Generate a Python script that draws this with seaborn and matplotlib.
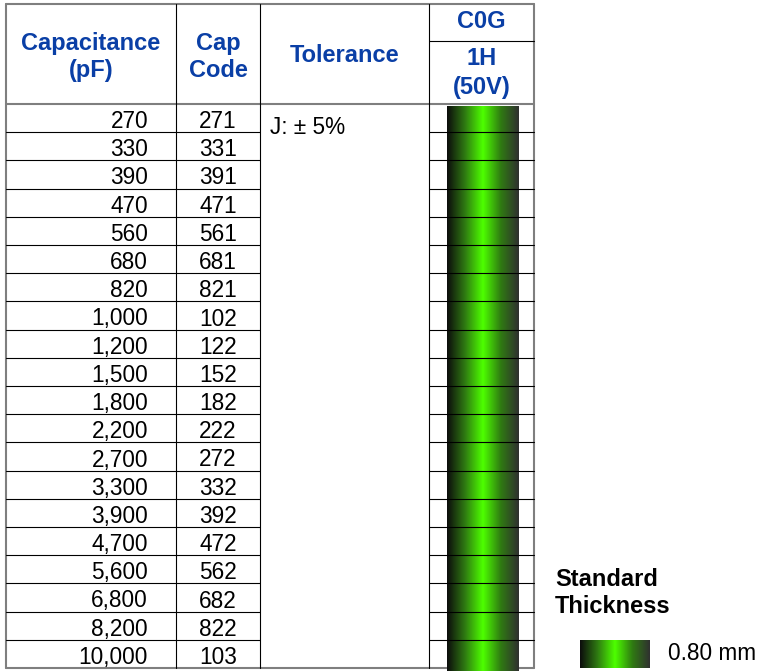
import numpy as np
import matplotlib
matplotlib.use("Agg")
import matplotlib.pyplot as plt
import seaborn as sns

# ---- data ----
capacitance = ["270", "330", "390", "470", "560", "680", "820", "1,000", "1,200", "1,500",
               "1,800", "2,200", "2,700", "3,300", "3,900", "4,700", "5,600", "6,800",
               "8,200", "10,000"]
cap_codes = ["271", "331", "391", "471", "561", "681", "821", "102", "122", "152",
             "182", "222", "272", "332", "392", "472", "562", "682", "822", "103"]
tolerance = "J: ± 5%"
dielectric = "C0G"
voltage = "1H\n(50V)"
headers = ["Capacitance\n(pF)", "Cap\nCode", "Tolerance"]
legend_title = "Standard\nThickness"
legend_label = "0.80 mm"

sns.set_theme(style="white")
plt.rcParams['font.family'] = ['Liberation Sans', 'DejaVu Sans']

fig = plt.figure(figsize=(7.62, 6.71), dpi=100)
ax = fig.add_axes([0, 0, 1, 1])
ax.set_xlim(0, 762)
ax.set_ylim(671, 0)
ax.axis("off")

blue = "#0a3fa6"
gray = "#7f7f7f"
cmap = sns.blend_palette(["#0c0c0c", "#2f7a12", "#4dff00", "#2f7a12", "#303030"], as_cmap=True)
grad = np.linspace(0, 1, 256)[None, :]

# geometry
x_left, x_c1, x_c2, x_c3, x_right = 6, 176, 260, 429, 534
y_top, y_sub, y_head = 4, 41, 104
n = len(capacitance)
row_h = (668 - y_head) / n
y_bottom = y_head + n * row_h

# gradient bar
ax.imshow(grad, cmap=cmap, extent=[447, 519, 671, 106], aspect="auto", zorder=2)

# outer borders (gray)
lw_out = 1.5
ax.plot([x_left, x_left], [y_top, y_bottom], color=gray, lw=lw_out, zorder=1)
ax.plot([x_right, x_right], [y_top, y_bottom], color=gray, lw=lw_out, zorder=1)
ax.plot([x_left, x_right], [y_top, y_top], color=gray, lw=lw_out, zorder=1)
ax.plot([x_left, x_right], [y_bottom, y_bottom], color=gray, lw=lw_out, zorder=1)
ax.plot([x_left, x_right], [y_head, y_head], color=gray, lw=lw_out, zorder=1)

# inner verticals
for xv in (x_c1, x_c2, x_c3):
    ax.plot([xv, xv], [y_top, y_bottom], color="black", lw=0.8, zorder=3)
ax.plot([x_c3, x_right], [y_sub, y_sub], color="black", lw=0.8, zorder=3)

# row lines
for i in range(1, n):
    yy = y_head + i * row_h
    ax.plot([x_left, x_c2], [yy, yy], color="black", lw=0.8, zorder=3)
    ax.plot([x_c3, x_right], [yy, yy], color="black", lw=0.8, zorder=3)

# headers
hfs = 17
ax.text((x_left + x_c1) / 2, 57, headers[0], ha="center", va="center", color=blue,
        fontsize=hfs, fontweight="bold", linespacing=1.25)
ax.text((x_c1 + x_c2) / 2, 57, headers[1], ha="center", va="center", color=blue,
        fontsize=hfs, fontweight="bold", linespacing=1.25)
ax.text((x_c2 + x_c3) / 2, 56, headers[2], ha="center", va="center", color=blue,
        fontsize=hfs, fontweight="bold")
ax.text((x_c3 + x_right) / 2, 22, dielectric, ha="center", va="center", color=blue,
        fontsize=hfs, fontweight="bold")
ax.text((x_c3 + x_right) / 2, 73, voltage, ha="center", va="center", color=blue,
        fontsize=hfs, fontweight="bold", linespacing=1.3)

# rows
fs = 16.3
for i, (c, code) in enumerate(zip(capacitance, cap_codes)):
    yc = y_head + (i + 0.5) * row_h + 3.5
    ax.text(148, yc, c, ha="right", va="center", color="black", fontsize=fs)
    ax.text((x_c1 + x_c2) / 2, yc, code, ha="center", va="center", color="black", fontsize=fs)
ax.text(270, 128, tolerance, ha="left", va="center", color="black", fontsize=fs)

# legend
ax.text(555, 593, legend_title, ha="left", va="center", color="black",
        fontsize=hfs, fontweight="bold", linespacing=1.25)
ax.imshow(grad, cmap=cmap, extent=[580, 650, 668, 640], aspect="auto", zorder=2)
ax.text(668, 654, legend_label, ha="left", va="center", color="black", fontsize=fs)

ax.set_xlim(0, 762)
ax.set_ylim(671, 0)
fig.savefig("out.png", dpi=100)
